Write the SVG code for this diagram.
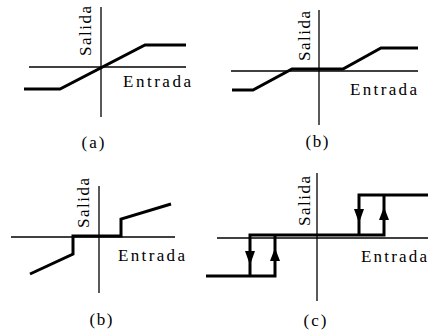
<svg xmlns="http://www.w3.org/2000/svg" width="428" height="333" viewBox="0 0 428 333" font-family="'Liberation Serif', 'DejaVu Serif', 'Times New Roman', serif">
<style>
.axis{stroke:#000;stroke-width:1.3;fill:none}
.curve{stroke:#000;stroke-width:3;fill:none;stroke-linejoin:miter;stroke-linecap:butt}
text{font-size:17px;fill:#000}
.mid{text-anchor:middle}
.arr{fill:#000}
</style>
<rect width="428" height="333" fill="#fff"/>
<g id="panel-a">
  <line class="axis" x1="101" y1="7" x2="101" y2="117"/>
  <line class="axis" x1="29" y1="67" x2="186" y2="67"/>
  <polyline class="curve" points="24,89 60,89 145,45 186,45"/>
  <text class="mid" font-family="Liberation Serif" transform="translate(91,31) rotate(-90)" textLength="50">Salida</text>
  <text font-family="Liberation Serif" x="123" y="87" textLength="68">Entrada</text>
  <text class="mid" font-family="Liberation Serif" x="93" y="148" textLength="23">(a)</text>
</g>
<g id="panel-b-top">
  <line class="axis" x1="319" y1="10" x2="319" y2="125"/>
  <line class="axis" x1="231" y1="71" x2="418" y2="71"/>
  <polyline class="curve" points="232,90 253,90 292,69 343,69 381,48 418,48"/>
  <text class="mid" font-family="Liberation Serif" transform="translate(310,36) rotate(-90)" textLength="50">Salida</text>
  <text font-family="Liberation Serif" x="350" y="95" textLength="67">Entrada</text>
  <text class="mid" font-family="Liberation Serif" x="317" y="147" textLength="23">(b)</text>
</g>
<g id="panel-b-bottom">
  <line class="axis" x1="99" y1="186" x2="99" y2="293"/>
  <line class="axis" x1="11" y1="237" x2="175" y2="237"/>
  <polyline class="curve" points="30,274 73,254 73,236 121,236 121,219 171,204"/>
  <text class="mid" font-family="Liberation Serif" transform="translate(89,203) rotate(-90)" textLength="50">Salida</text>
  <text font-family="Liberation Serif" x="118" y="261" textLength="67">Entrada</text>
  <text class="mid" font-family="Liberation Serif" x="101" y="325" textLength="23">(b)</text>
</g>
<g id="panel-c">
  <line class="axis" x1="317" y1="173" x2="317" y2="301"/>
  <line class="axis" x1="217" y1="238" x2="428" y2="238"/>
  <polyline class="curve" points="206,276 275,276 275,235"/>
  <polyline class="curve" points="250,276 250,235 384,235 384,195"/>
  <polyline class="curve" points="359,235 359,195 428,195"/>
  <polygon class="arr" points="245,251 255,251 250,265"/>
  <polygon class="arr" points="275,248 270,261 280,261"/>
  <polygon class="arr" points="354,209 364,209 359,223"/>
  <polygon class="arr" points="384,207 379,220 389,220"/>
  <text class="mid" font-family="Liberation Serif" transform="translate(310,201) rotate(-90)" textLength="50">Salida</text>
  <text font-family="Liberation Serif" x="361" y="262" textLength="66">Entrada</text>
  <text class="mid" font-family="Liberation Serif" x="315" y="326" textLength="23">(c)</text>
</g>
</svg>
